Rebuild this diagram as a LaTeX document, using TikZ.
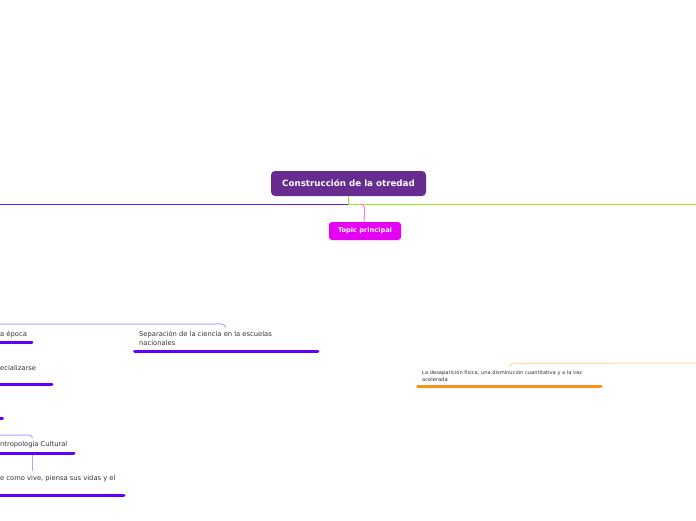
\documentclass[tikz,border=0pt]{standalone}
\usepackage{fontspec}
\setmainfont{DejaVu Sans}
\definecolor{rootc}{RGB}{104,44,145}
\definecolor{topicc}{RGB}{230,0,245}
\definecolor{pinkc}{RGB}{245,120,245}
\definecolor{bluec}{RGB}{95,30,255}
\definecolor{greenc}{RGB}{155,235,25}
\definecolor{ulc}{RGB}{98,0,255}
\definecolor{lightp}{RGB}{185,160,255}
\definecolor{orangec}{RGB}{247,148,30}
\definecolor{lighto}{RGB}{252,218,165}
\definecolor{txtc}{RGB}{51,51,51}
\tikzset{
  rootbox/.style={fill=rootc,rounded corners=4pt,text=white,font=\fontsize{8.7}{10}\selectfont\bfseries,minimum width=155pt,minimum height=25pt,inner sep=0pt},
  topicbox/.style={fill=topicc,rounded corners=3pt,text=white,font=\fontsize{6.6}{8}\selectfont\bfseries,minimum width=72pt,minimum height=18pt,inner sep=0pt},
  leaf/.style={anchor=north west,inner sep=0pt,text=txtc,font=\fontsize{6.75}{8.5}\selectfont,align=left},
  tiny/.style={anchor=north west,inner sep=0pt,text=txtc,font=\fontsize{5.15}{6.2}\selectfont,align=left},
  ul/.style={draw=ulc,line width=3pt,line cap=round},
  ulo/.style={draw=orangec,line width=3pt,line cap=round},
  conn/.style={line width=1pt},
}
\begin{document}
\begin{tikzpicture}[x=1pt,y=-1pt]
\fill[white] (0,0) rectangle (696,520);
\useasboundingbox (0,0) rectangle (696,520);
\clip (0,0) rectangle (696,520);

% main nodes
\node[rootbox] (root) at (348.5,183.5) {Construcción de la otredad};
\node[topicbox] (topic) at (365,231) {Topic principal};

% trunk lines
\coordinate (fork) at (348,204);
\coordinate (leftend) at (-5,204);
\coordinate (rightend) at (701,204);
\coordinate (pinkstart) at (360,204);
\draw[conn,greenc] (root.south -| fork) -- (fork) -- (rightend);
\draw[conn,bluec] (fork) -- (leftend);
\draw[conn,pinkc] (pinkstart) to[out=0,in=90] (topic.north -| 364,0);

% left leaves
\node[leaf] (epoca) at (0,331) {a época};
\draw[ul] (-5,342) -- (32,342);
\node[leaf] (sep) at (139,331) {Separación de la ciencia en la escuelas\\nacionales};
\draw[ul] (134.5,351) -- (318,351);
\coordinate (c1) at (-5,324);
\draw[conn,lightp] (c1) -- (214,324) to[out=0,in=110] (226,327.5);

\node[leaf] (espec) at (0,365) {ecializarse};
\draw[ul] (-5,384) -- (52,384);

\coordinate (s3) at (-5,418);
\draw[ul] (s3) -- (2.5,418);

\coordinate (c2) at (-5,435);
\draw[conn,lightp] (c2) -- (25,435) to[out=0,in=100] (32.5,438);
\node[leaf] (antro) at (0,441) {ntropología Cultural};
\draw[ul] (-5,453) -- (74,453);
\draw[conn,lightp] (32.5,455) -- (32.5,471);
\node[leaf] (vive) at (0,475) {e como vive, piensa sus vidas y el};
\draw[ul] (-5,495) -- (124,495);

% right leaf
\coordinate (c3) at (701,363);
\draw[conn,lighto] (c3) -- (522,363.5) to[out=180,in=70] (509,366.5);
\node[tiny] (desap) at (422,370.5) {La desaparición física, una disminución cuantitativa y a la vez\\acelerada};
\draw[ulo] (417.5,386) -- (601,386);
\end{tikzpicture}
\end{document}
